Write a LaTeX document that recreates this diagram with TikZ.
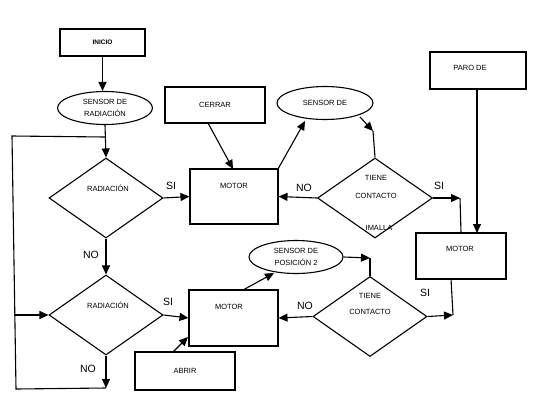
\documentclass[tikz,border=0pt]{standalone}
\usepackage{fontspec}
\setmainfont{Liberation Sans}
\usetikzlibrary{shapes.geometric,arrows.meta}
\begin{document}
\begin{tikzpicture}[x=1pt,y=-1pt,
  line width=1.1pt,
  arr/.style={-{Triangle[length=9pt,width=8pt]}},
  box/.style={draw,rectangle,inner sep=0pt,font=\fontsize{7.5}{8}\selectfont},
  oval/.style={draw,ellipse,inner sep=0pt,minimum width=95pt,minimum height=33pt,align=center,font=\fontsize{7.5}{12}\selectfont},
  dia/.style={draw,diamond,inner sep=0pt,minimum width=114pt,minimum height=80pt},
  txt/.style={font=\fontsize{7.5}{9}\selectfont,inner sep=0pt},
  lbl/.style={font=\fontsize{10.5}{12}\selectfont,inner sep=0pt}]
\useasboundingbox (0,0) rectangle (551,416);
% boxes
\node[box,minimum width=85pt,minimum height=27pt,font=\bfseries\fontsize{6.5}{8}\selectfont] (inicio) at (102.5,42.5) {INICIO};
\node[oval] (e1) at (105,108) {SENSOR DE\\RADIACIÓN};
\node[dia] (d1) at (106,198) {};
\node[txt] at (108,188) {RADIACIÓN};
\node[dia] (d2) at (106,315) {};
\node[txt] at (108,305) {RADIACIÓN};
\node[box,minimum width=100pt,minimum height=36pt] (cerrar) at (215,105) {CERRAR};
\node[box,minimum width=88pt,minimum height=55pt] (m1) at (234,196.5) {};
\node[txt] at (234,186) {MOTOR};
\node[oval,minimum width=96pt] (e2) at (325,103) {SENSOR DE};
\node[dia,minimum width=115pt] (d3) at (375,198) {};
\node[txt] at (376,178) {TIENE};
\node[txt] at (376,196) {CONTACTO};
\node[txt] at (379,228) {IMALLA};
\node[box,minimum width=96pt,minimum height=37pt] (paro) at (478,70.5) {};
\node[txt] at (470,68) {PARO DE};
\node[box,minimum width=90pt,minimum height=46pt] (m3) at (461,256) {};
\node[txt] at (460,249) {MOTOR};
\node[oval,minimum width=94pt] (e4) at (296,257) {SENSOR DE\\POSICIÓN 2};
\node[dia] (d4) at (370,316.5) {};
\node[txt] at (370,296) {TIENE};
\node[txt] at (370,312) {CONTACTO};
\node[box,minimum width=89pt,minimum height=56pt] (m2) at (233.5,318) {};
\node[txt] at (229,307) {MOTOR};
\node[box,minimum width=100pt,minimum height=38pt] (abrir) at (185,371) {ABRIR};
% coordinates
\coordinate (c1) at (106,388);
\coordinate (lb) at (16,389);
\coordinate (lt) at (12,136);
\coordinate (lj) at (105,137);
\coordinate (lm) at (14,315);
\coordinate (ca) at (208,123);
\coordinate (cb) at (233,169);
\coordinate (cc) at (278,169);
\coordinate (cd) at (305,121);
\coordinate (ce) at (360,117);
\coordinate (cf) at (373,131);
\coordinate (cg) at (460,198);
\coordinate (ch) at (461,233);
\coordinate (ci) at (451,279);
\coordinate (cj) at (453,315);
\coordinate (ck) at (173,352);
\coordinate (cl) at (188,337);
\coordinate (cm) at (243,290);
\coordinate (cn) at (274,273);
\coordinate (co) at (370,258);
\coordinate (cp) at (477,89);
\coordinate (cq) at (477,233);
% connectors
\draw[arr] (inicio.south) -- (inicio.south |- e1.north);
\draw[arr] (e1.south) -- (d1.north);
\draw[arr] (d1.east) -- (m1.west);
\draw[arr] (d1.south) -- (d2.north);
\draw[arr] (d2.east) -- (m2.west);
\draw[arr] (d2.south) -- (c1);
\draw (c1) -- (lb) -- (lt) -- (lj);
\draw[arr] (lm) -- (d2.west);
\draw[arr] (ca) -- (cb);
\draw[arr] (cc) -- (cd);
\draw[arr] (ce) -- (cf);
\draw (cf) -- (d3.north);
\draw[arr] (d3.west) -- (m1.east);
\draw[arr] (d3.east) -- (cg);
\draw (cg) -- (ch);
\draw[arr] (cp) -- (cq);
\draw (ci) -- (cj);
\draw[arr] (d4.east) -- (cj);
\draw[arr] (d4.west) -- (m2.east);
\draw[arr] (ck) -- (cl);
\draw[arr] (cm) -- (cn);
\draw[arr] (e4.east) -- (co);
\draw (co) -- (d4.north);
% labels
\node[lbl] at (171,186) {SI};
\node[lbl] at (91,255) {NO};
\node[lbl] at (168,302) {SI};
\node[lbl] at (88,369) {NO};
\node[lbl] at (304,188) {NO};
\node[lbl] at (439,186) {SI};
\node[lbl] at (305,306) {NO};
\node[lbl] at (425,293) {SI};
\end{tikzpicture}
\end{document}
